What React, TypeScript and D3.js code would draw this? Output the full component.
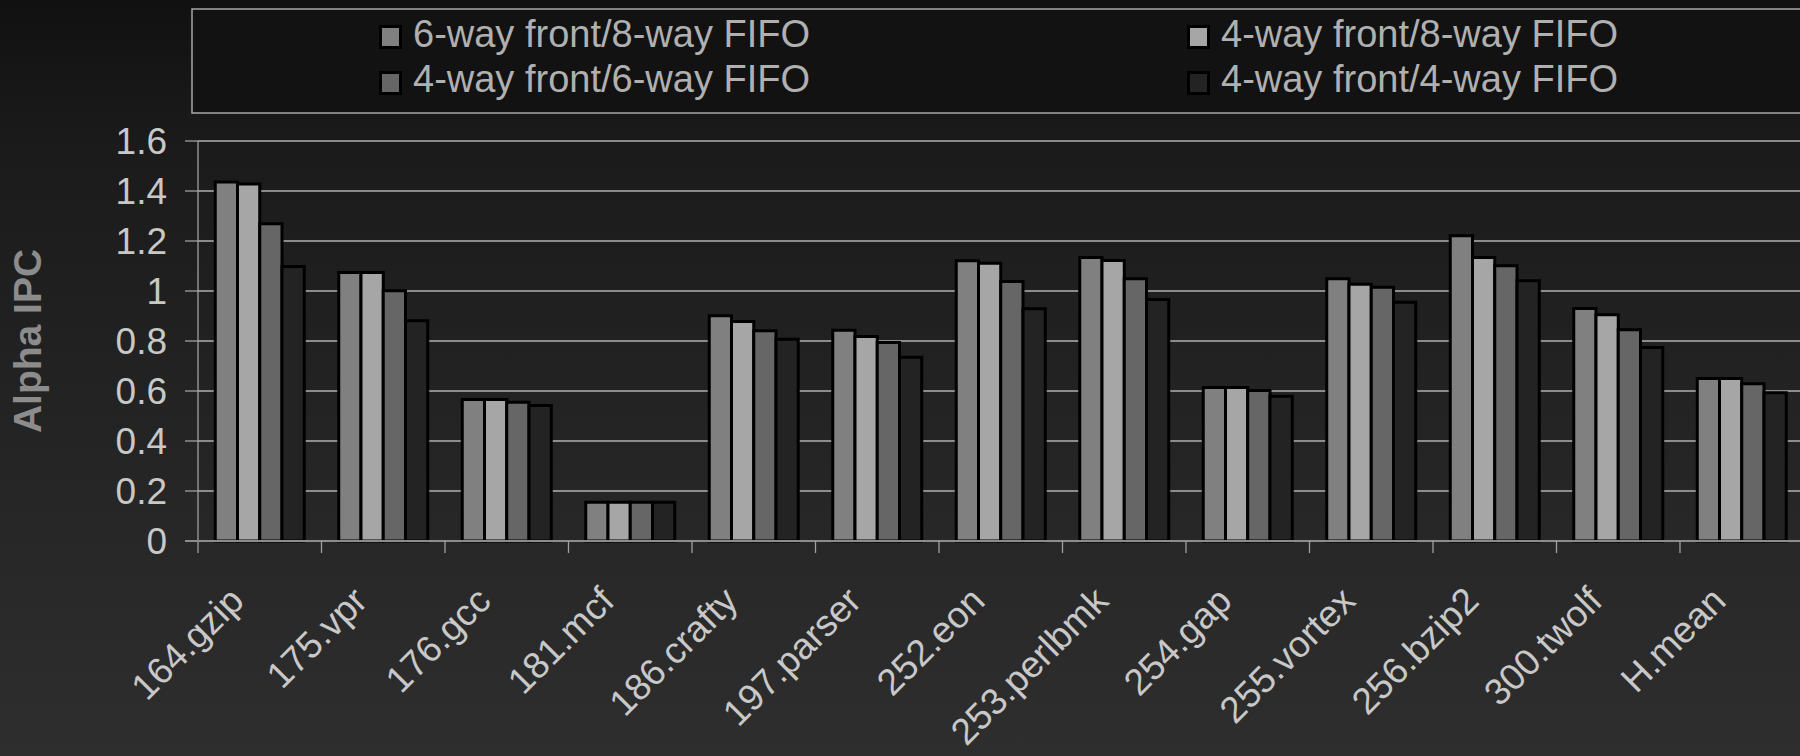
import React from "react";
import * as d3 from "d3";

const categories = [
  "164.gzip", "175.vpr", "176.gcc", "181.mcf", "186.crafty", "197.parser",
  "252.eon", "253.perlbmk", "254.gap", "255.vortex", "256.bzip2", "300.twolf", "H.mean",
];
const seriesNames = [
  "6-way front/8-way FIFO",
  "4-way front/8-way FIFO",
  "4-way front/6-way FIFO",
  "4-way front/4-way FIFO",
];
const seriesColors = ["#808080", "#a6a6a6", "#666666", "#232323"];
const s6f8 = [1.436, 1.074, 0.566, 0.155, 0.901, 0.843, 1.121, 1.134, 0.614, 1.049, 1.221, 0.93, 0.65];
const s4f8 = [1.428, 1.074, 0.566, 0.155, 0.878, 0.818, 1.111, 1.122, 0.614, 1.027, 1.134, 0.905, 0.65];
const s4f6 = [1.269, 1.001, 0.555, 0.155, 0.841, 0.794, 1.038, 1.049, 0.602, 1.015, 1.101, 0.845, 0.629];
const s4f4 = [1.098, 0.881, 0.542, 0.155, 0.807, 0.735, 0.929, 0.966, 0.579, 0.955, 1.041, 0.774, 0.593];
const seriesValues = [s6f8, s4f8, s4f6, s4f4];
const yTicks = [0, 0.2, 0.4, 0.6, 0.8, 1, 1.2, 1.4, 1.6];
const yTitle = "Alpha IPC";

const W = 1800;
const H = 756;
const FONT = "'Liberation Sans', Arial, Helvetica, sans-serif";

export default function App() {
  const left = 198;
  const step = 123.5;
  const x0 = d3
    .scaleBand<string>()
    .domain(categories)
    .range([left, left + step * categories.length])
    .padding(0);
  const x1 = d3
    .scaleBand<string>()
    .domain(seriesNames)
    .range([step / 2 - 44.5, step / 2 + 44.5])
    .padding(0);
  const y = d3.scaleLinear().domain([0, 1.6]).range([541, 141]);

  const legendItems = [
    { i: 0, x: 379, y: 25, ty: 47 },
    { i: 1, x: 1187, y: 25, ty: 47 },
    { i: 2, x: 379, y: 71, ty: 92 },
    { i: 3, x: 1187, y: 71, ty: 92 },
  ];

  return (
    <svg
      width={W}
      height={H}
      style={{ position: "absolute", left: 0, top: 0, display: "block" }}
      fontFamily={FONT}
    >
      <defs>
        <linearGradient id="bg" x1="0" y1="0" x2="0" y2="1">
          <stop offset="0" stopColor="#111111" />
          <stop offset="0.2" stopColor="#1b1b1b" />
          <stop offset="0.7" stopColor="#272727" />
          <stop offset="1" stopColor="#2e2e2e" />
        </linearGradient>
      </defs>
      <rect x={0} y={0} width={W} height={H} fill="url(#bg)" />

      {/* legend */}
      <rect x={192} y={9} width={W} height={104} fill="#121212" stroke="#a8a8a8" strokeWidth={1.5} />
      {legendItems.map((it) => (
        <g key={it.i}>
          <rect
            x={it.x + 1.5}
            y={it.y + 1.5}
            width={20}
            height={21}
            fill={seriesColors[it.i]}
            stroke="#000"
            strokeWidth={3}
          />
          <text x={it.x + 34} y={it.ty} fontSize={38} fill="#b0b0b0">
            {seriesNames[it.i]}
          </text>
        </g>
      ))}

      {/* gridlines */}
      {yTicks.map((t) => (
        <g key={t}>
          {t > 0 && (
            <line x1={left} x2={W} y1={y(t)} y2={y(t)} stroke="#b0b0b0" strokeWidth={1.3} />
          )}
          <line x1={185} x2={left} y1={y(t)} y2={y(t)} stroke="#a0a0a0" strokeWidth={1.3} />
          <text
            x={167}
            y={y(t)}
            dy="0.36em"
            textAnchor="end"
            fontSize={37}
            fill="#c8c8c8"
          >
            {String(t)}
          </text>
        </g>
      ))}

      {/* y axis */}
      <line x1={left} x2={left} y1={y(1.6)} y2={553} stroke="#a0a0a0" strokeWidth={1.3} />

      {/* bars */}
      {categories.map((c, ci) => (
        <g key={c} transform={`translate(${x0(c)},0)`}>
          {seriesNames.map((s, si) => {
            const v = seriesValues[si][ci];
            return (
              <rect
                key={s}
                x={x1(s)}
                y={y(v)}
                width={x1.bandwidth()}
                height={y(0) - y(v)}
                fill={seriesColors[si]}
                stroke="#000"
                strokeWidth={3}
              />
            );
          })}
        </g>
      ))}

      {/* x axis */}
      <line x1={185} x2={W} y1={y(0)} y2={y(0)} stroke="#8c8c8c" strokeWidth={2} />
      {categories.map((c) => (
        <line
          key={c + "t"}
          x1={(x0(c) as number) + step}
          x2={(x0(c) as number) + step}
          y1={y(0)}
          y2={553}
          stroke="#a0a0a0"
          strokeWidth={1.3}
        />
      ))}
      {categories.map((c) => {
        const cx = (x0(c) as number) + step / 2 - 14;
        const cy = 603;
        return (
          <text
            key={c + "l"}
            x={cx}
            y={cy}
            transform={`rotate(-45 ${cx} ${cy})`}
            textAnchor="end"
            fontSize={37}
            fill="#c8c8c8"
          >
            {c}
          </text>
        );
      })}

      {/* y title */}
      <text
        x={0}
        y={0}
        transform={`translate(41,341) rotate(-90)`}
        textAnchor="middle"
        fontSize={39}
        fontWeight="bold"
        fill="#8c8c8c"
      >
        {yTitle}
      </text>
    </svg>
  );
}
